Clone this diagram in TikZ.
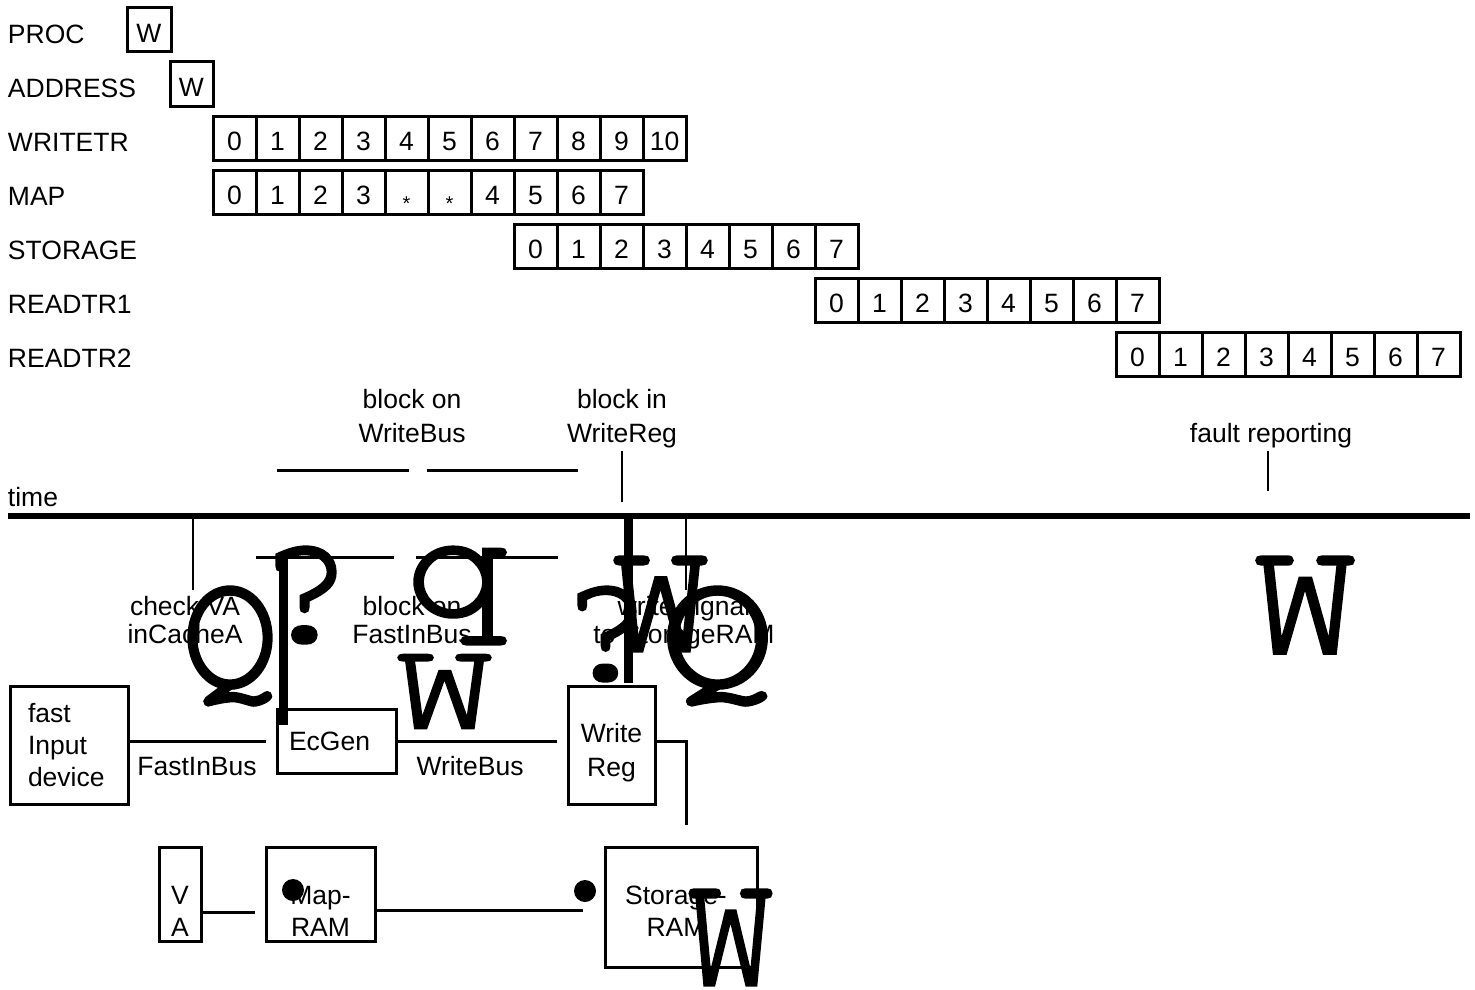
\documentclass[tikz,border=0pt]{standalone}
\usepackage{fontspec}
\setmainfont{Liberation Sans}
\newfontfamily\curfont[FakeBold=2]{TeX Gyre Cursor}
\usepackage{graphicx}
% glyph trimmed to its ink, then scaled to the given ink width and total height
\newcommand\bigglyph[3]{\resizebox*{#1pt}{#2pt}{\curfont\kern-\XeTeXglyphbounds1 \XeTeXcharglyph`#3\relax #3\kern-\XeTeXglyphbounds3 \XeTeXcharglyph`#3\relax}}
\begin{document}
\begin{tikzpicture}[x=1pt,y=-1pt,
  every node/.style={inner sep=0pt, outer sep=0pt, font=\fontsize{26.5}{32}\selectfont},
  cell/.style={draw, line width=3pt, minimum width=43pt, minimum height=44pt, text height=25pt, text depth=0pt},
  lbl/.style={anchor=west},
  blk/.style={draw, line width=3pt},
  txt/.style={align=center, text depth=0pt},
  conn/.style={line width=3pt},
  tick/.style={line width=2.5pt},
  bar/.style={line width=9pt},
  timeline/.style={line width=6.5pt},
  glyph/.style={anchor=north west},
  dotc/.style={circle, fill, minimum size=22pt}]
\path[use as bounding box] (0,0) rectangle (1475,990);

% row labels
\foreach \t [count=\k from 0] in {PROC,ADDRESS,WRITETR,MAP,STORAGE,READTR1,READTR2}
  \node[lbl] (row\k) at (8,{34+54*\k}) {\t};

\node[cell, minimum width=44pt] (procw) at (149,30) {W};
\node[cell, minimum width=43pt] (addrw) at (191.5,84) {W};

\foreach \t [count=\i from 0] in {0,1,2,3,4,5,6,7,8,9,10}
  \node[cell] (wt\i) at ({234.5+43*\i},138) {\t};
\foreach \t [count=\i from 0] in {0,1,2,3,{\raisebox{-6pt}{\fontsize{20}{20}\selectfont *}},{\raisebox{-6pt}{\fontsize{20}{20}\selectfont *}},4,5,6,7}
  \node[cell] (mp\i) at ({234.5+43*\i},192) {\t};
\foreach \t [count=\i from 0] in {0,1,2,3,4,5,6,7}
  \node[cell] (st\i) at ({535.5+43*\i},246) {\t};
\foreach \t [count=\i from 0] in {0,1,2,3,4,5,6,7}
  \node[cell] (ra\i) at ({836.5+43*\i},300) {\t};
\foreach \t [count=\i from 0] in {0,1,2,3,4,5,6,7}
  \node[cell] (rb\i) at ({1137.5+43*\i},354) {\t};

% labels above time line
\node[txt, font=\fontsize{26.5}{34}\selectfont] (bwb) at (412,416) {block on\\WriteBus};
\node[txt, font=\fontsize{26.5}{34}\selectfont] (bwr) at (622,416) {block in\\WriteReg};
\node[txt] (fault) at (1271,433) {fault reporting};
\node[lbl] (time) at (8,497) {time};

\coordinate (a1) at (622,451); \coordinate (a2) at (622,502);
\coordinate (b1) at (1268,451); \coordinate (b2) at (1268,491);
\coordinate (c1) at (277,470); \coordinate (c2) at (409,470);
\coordinate (d1) at (427,470); \coordinate (d2) at (578,470);
\draw[tick] (a1) -- (a2);
\draw[tick] (b1) -- (b2);
\draw[conn] (c1) -- (c2);
\draw[conn] (d1) -- (d2);

% time line
\coordinate (tl) at (8,516); \coordinate (tr) at (1470,516);
\draw[timeline] (tl) -- (tr);

% below time line
\coordinate (e1) at (193,519); \coordinate (e2) at (193,590);
\coordinate (f1) at (686,519); \coordinate (f2) at (686,590);
\coordinate (g1) at (256,557); \coordinate (g2) at (394,557);
\coordinate (h1) at (416,557); \coordinate (h2) at (558,557);
\coordinate (p1) at (283,557); \coordinate (p2) at (283,725);
\coordinate (r1) at (628.5,516); \coordinate (r2) at (628.5,683);
\draw[tick] (e1) -- (e2);
\draw[tick] (f1) -- (f2);
\draw[conn] (g1) -- (g2);
\draw[conn] (h1) -- (h2);
\draw[bar] (p1) -- (p2);
\draw[bar] (r1) -- (r2);

\node[txt, font=\fontsize{26.5}{28}\selectfont] (chk) at (185,620) {check VA\\inCacheA};
\node[txt, font=\fontsize{26.5}{28}\selectfont] (bfb) at (412,620) {block on\\FastInBus};
\node[txt, font=\fontsize{26.5}{28}\selectfont] (wsig) at (684,620) {write signal\\to StorageRAM};

% big glyphs (positioned by their ink's top-left corner)
\node[glyph] (gQa) at (189,587) {\bigglyph{82}{118}{Q}};
\node[glyph] (gQMa) at (277,547) {\bigglyph{58}{96}{?}};
\node[glyph] (gq) at (415,547) {\bigglyph{90}{97}{q}};
\node[glyph] (gWb) at (399,655) {\bigglyph{91}{73}{W}};
\node[glyph] (gQMb) at (579,587) {\bigglyph{56}{94}{?}};
\node[glyph] (gWa) at (615,557) {\bigglyph{91}{94}{W}};
\node[glyph] (gQb) at (669,587) {\bigglyph{97}{118}{Q}};
\node[glyph] (gWc) at (1257,557) {\bigglyph{96}{96}{W}};
\node[glyph] (gWd) at (690,890) {\bigglyph{81}{95}{W}};

% blocks
\node[blk, minimum width=118pt, minimum height=118pt, align=left, text width=82pt] (fid) at (69,745) {fast\\Input\\device};
\node[blk, minimum width=119pt, minimum height=64pt, align=left, text width=95pt] (ecgen) at (336.5,741) {EcGen};
\node[blk, minimum width=87pt, minimum height=118pt] (wreg) at (611.5,745) {};
\node[txt, font=\fontsize{26.5}{34}\selectfont] (wregt) at ([yshift=-5pt]wreg.center) {Write\\Reg};
\node[blk, minimum width=42pt, minimum height=94pt] (va) at (180,894) {};
\node[txt] (vat) at ([yshift=-17pt]va.center) {V\\A};
\node[blk, minimum width=109pt, minimum height=94pt] (mram) at (320.5,894) {};
\node[txt] (mramt) at ([yshift=-17pt]mram.center) {Map-\\RAM};
\node[blk, minimum width=152pt, minimum height=120pt] (sram) at (681,907) {};
\node[txt] (sramt) at ([xshift=-5pt,yshift=-4pt]sram.center) {Storage-\\RAM};

\node[txt] (fib) at (197,766) {FastInBus};
\node[txt] (wb) at (470,766) {WriteBus};

\node[dotc] (dot1) at (293,890) {};
\node[dotc] (dot2) at (585,891) {};

% connectors
\draw[conn] (fid.east |- ecgen.west) -- ([xshift=-11pt]ecgen.west);
\draw[conn] (ecgen.east) -- ([xshift=-11pt]ecgen.east -| wreg.west);
\coordinate (sin) at (686,825);
\draw[conn] (wreg.east |- ecgen.east) -| (sin);
\draw[conn] ([yshift=-18pt]va.east) -- ([xshift=-11pt,yshift=-18pt]mram.west);
\draw[conn] ([yshift=-16pt]mram.east) -- ([xshift=-22pt,yshift=-16pt]mram.east -| sram.west);
\end{tikzpicture}
\end{document}
